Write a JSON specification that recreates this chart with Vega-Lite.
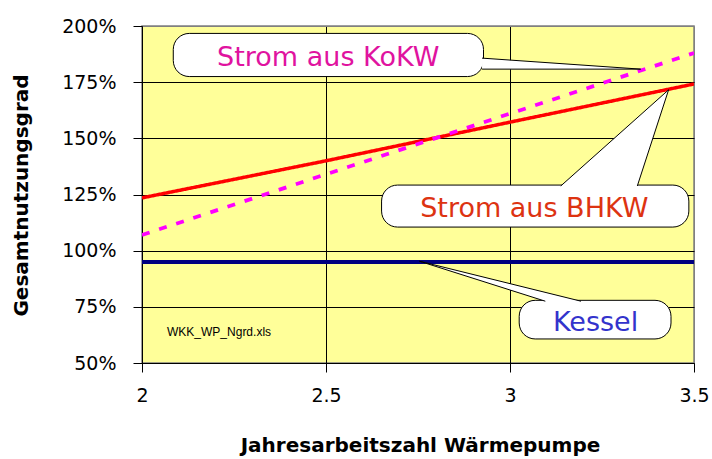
{
  "$schema": "https://vega.github.io/schema/vega-lite/v6.json",
  "width": 552,
  "height": 337,
  "autosize": {"type": "none"},
  "padding": {"left": 142, "top": 26, "right": 18, "bottom": 96},
  "background": "white",
  "config": {
    "view": {"fill": "#FFFF99", "stroke": "#808080", "strokeWidth": 1.5}
  },
  "datasets": {
    "curves": [
      {"series": "BHKW", "x": 2, "y": 1.235},
      {"series": "BHKW", "x": 2.5, "y": 1.40},
      {"series": "BHKW", "x": 3, "y": 1.572},
      {"series": "BHKW", "x": 3.5, "y": 1.742},
      {"series": "KoKW", "x": 2, "y": 1.07},
      {"series": "KoKW", "x": 2.5, "y": 1.34},
      {"series": "KoKW", "x": 3, "y": 1.61},
      {"series": "KoKW", "x": 3.5, "y": 1.88},
      {"series": "Kessel", "x": 2, "y": 0.95},
      {"series": "Kessel", "x": 3.5, "y": 0.95}
    ],
    "boxes": [
      {"name": "KoKW", "x": 2.085, "x2": 2.928, "y": 1.775, "y2": 1.967},
      {"name": "BHKW", "x": 2.651, "x2": 3.486, "y": 1.105, "y2": 1.292},
      {"name": "Kessel", "x": 3.025, "x2": 3.4375, "y": 0.607, "y2": 0.779}
    ],
    "pointers": [
      {"name": "KoKW", "o": 1, "x": 2.924, "y": 1.857},
      {"name": "KoKW", "o": 2, "x": 3.355, "y": 1.808},
      {"name": "KoKW", "o": 3, "x": 2.924, "y": 1.808},
      {"name": "BHKW", "o": 1, "x": 3.138, "y": 1.288},
      {"name": "BHKW", "o": 2, "x": 3.431, "y": 1.716},
      {"name": "BHKW", "o": 3, "x": 3.346, "y": 1.288},
      {"name": "Kessel", "o": 1, "x": 3.096, "y": 0.775},
      {"name": "Kessel", "o": 2, "x": 2.754, "y": 0.953},
      {"name": "Kessel", "o": 3, "x": 3.193, "y": 0.775}
    ],
    "labels": [
      {"name": "KoKW", "text": "Strom aus KoKW", "x": 2.506, "y": 1.82},
      {"name": "BHKW", "text": "Strom aus BHKW", "x": 3.066, "y": 1.15},
      {"name": "Kessel", "text": "Kessel", "x": 3.2325, "y": 0.644}
    ],
    "note": [{"text": "WKK_WP_Ngrd.xls", "x": 2.068, "y": 0.618}]
  },
  "resolve": {"scale": {"color": "independent"}},
  "layer": [
    {
      "data": {"name": "curves"},
      "mark": {"type": "line", "clip": true},
      "encoding": {
        "x": {
          "field": "x", "type": "quantitative",
          "scale": {"domain": [2, 3.5], "nice": false, "zero": false},
          "axis": {
            "values": [2, 2.5, 3, 3.5],
            "format": "~g",
            "grid": true,
            "gridColor": {"condition": {"test": "datum.value >= 3.5", "value": "#808080"}, "value": "black"},
            "gridOpacity": 1,
            "gridWidth": 1,
            "domainColor": "black",
            "tickColor": "black",
            "tickSize": 9,
            "labelFont": "DejaVu Sans",
            "labelFontSize": 19,
            "labelColor": "black",
            "labelPadding": 14,
            "labelFlush": false,
            "title": "Jahresarbeitszahl Wärmepumpe",
            "titleFont": "DejaVu Sans",
            "titleFontSize": 20,
            "titleFontWeight": "bold",
            "titleColor": "black",
            "titleBaseline": "alphabetic",
            "titleX": 278,
            "titleY": 88.5
          }
        },
        "y": {
          "field": "y", "type": "quantitative",
          "scale": {"domain": [0.5, 2.0], "nice": false, "zero": false},
          "axis": {
            "values": [0.5, 0.75, 1.0, 1.25, 1.5, 1.75, 2.0],
            "format": ".0%",
            "grid": true,
            "gridColor": {"condition": {"test": "datum.value >= 2", "value": "#808080"}, "value": "black"},
            "gridOpacity": 1,
            "gridWidth": 1,
            "domainColor": "black",
            "tickColor": "black",
            "tickSize": 9,
            "labelFont": "DejaVu Sans",
            "labelFontSize": 19,
            "labelColor": "black",
            "labelPadding": 17,
            "labelFlush": false,
            "title": "Gesamtnutzungsgrad",
            "titleFont": "DejaVu Sans",
            "titleFontSize": 20,
            "titleFontWeight": "bold",
            "titleColor": "black",
            "titleAngle": -90,
            "titleBaseline": "alphabetic",
            "titleX": -115,
            "titleY": 169
          }
        },
        "color": {
          "field": "series", "type": "nominal",
          "scale": {"domain": ["BHKW", "KoKW", "Kessel"], "range": ["#FF0000", "#FF00FF", "#000080"]},
          "legend": null
        },
        "strokeDash": {
          "field": "series", "type": "nominal",
          "scale": {"domain": ["BHKW", "KoKW", "Kessel"], "range": [[1, 0], [8, 10], [1, 0]]},
          "legend": null
        },
        "strokeWidth": {
          "field": "series", "type": "nominal",
          "scale": {"domain": ["BHKW", "KoKW", "Kessel"], "range": [3.5, 4, 4]},
          "legend": null
        }
      }
    },
    {
      "data": {"name": "boxes"},
      "mark": {"type": "rect", "fill": "white", "stroke": "black", "strokeWidth": 1, "cornerRadius": 16},
      "encoding": {
        "x": {"field": "x", "type": "quantitative"},
        "x2": {"field": "x2"},
        "y": {"field": "y", "type": "quantitative"},
        "y2": {"field": "y2"}
      }
    },
    {
      "data": {"name": "pointers"},
      "mark": {"type": "line", "fill": "white", "stroke": "black", "strokeWidth": 1},
      "encoding": {
        "x": {"field": "x", "type": "quantitative"},
        "y": {"field": "y", "type": "quantitative"},
        "detail": {"field": "name"},
        "order": {"field": "o"}
      }
    },
    {
      "data": {"name": "labels"},
      "mark": {"type": "text", "font": "DejaVu Sans", "fontSize": 27, "align": "center", "baseline": "alphabetic"},
      "encoding": {
        "x": {"field": "x", "type": "quantitative"},
        "y": {"field": "y", "type": "quantitative"},
        "text": {"field": "text"},
        "color": {
          "field": "name", "type": "nominal",
          "scale": {"domain": ["KoKW", "BHKW", "Kessel"], "range": ["#E0139F", "#DD3311", "#3333CC"]},
          "legend": null
        }
      }
    },
    {
      "data": {"name": "note"},
      "mark": {"type": "text", "font": "Liberation Sans", "fontSize": 12, "align": "left", "baseline": "alphabetic", "color": "black"},
      "encoding": {
        "x": {"field": "x", "type": "quantitative"},
        "y": {"field": "y", "type": "quantitative"},
        "text": {"field": "text"}
      }
    }
  ]
}
